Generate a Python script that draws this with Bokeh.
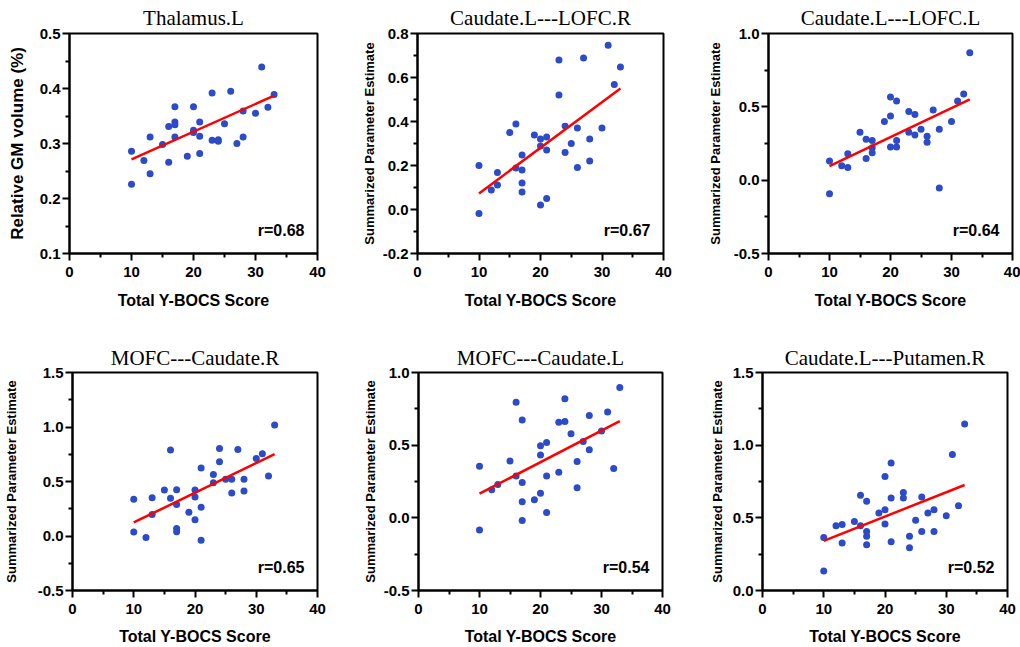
from bokeh.plotting import figure
from bokeh.layouts import row, column
from bokeh.models import Range1d, FixedTicker, NumeralTickFormatter, Label
from bokeh.embed import file_html
from bokeh.resources import INLINE

# ---------------- data ----------------
titles = ["Thalamus.L", "Caudate.L---LOFC.R", "Caudate.L---LOFC.L",
          "MOFC---Caudate.R", "MOFC---Caudate.L", "Caudate.L---Putamen.R"]
y_labels = ["Relative GM volume (%)", "Summarized Parameter Estimate",
            "Summarized Parameter Estimate", "Summarized Parameter Estimate",
            "Summarized Parameter Estimate", "Summarized Parameter Estimate"]
r_texts = ["r=0.68", "r=0.67", "r=0.64", "r=0.65", "r=0.54", "r=0.52"]
x_label = "Total Y-BOCS Score"

x_ticks = [0, 10, 20, 30, 40]
x_minor = [5, 15, 25, 35]

y_ticks = [[0.1, 0.2, 0.3, 0.4, 0.5],
           [-0.2, 0.0, 0.2, 0.4, 0.6, 0.8],
           [-0.5, 0.0, 0.5, 1.0],
           [-0.5, 0.0, 0.5, 1.0, 1.5],
           [-0.5, 0.0, 0.5, 1.0],
           [0.0, 0.5, 1.0, 1.5]]
y_minor = [[0.15, 0.25, 0.35, 0.45],
           [-0.1, 0.1, 0.3, 0.5, 0.7],
           [-0.25, 0.25, 0.75],
           [-0.25, 0.25, 0.75, 1.25],
           [-0.25, 0.25, 0.75],
           [0.25, 0.75, 1.25]]

x1 = [10, 10, 12, 13, 13, 15, 16, 16, 17, 17, 17, 17, 19, 20, 20, 20, 21, 21, 21,
      23, 23, 24, 24, 25, 26, 27, 28, 28, 30, 31, 32, 33]
y1 = [.226, .286, .269, .312, .245, .298, .331, .266, .367, .339, .334, .312, .277,
      .367, .324, .320, .339, .313, .282, .392, .306, .307, .304, .336, .395, .300,
      .359, .312, .355, .439, .366, .389]

x2 = [10, 10, 12, 13, 13, 15, 16, 16, 17, 17, 17, 17, 19, 20, 20, 20, 21, 21, 21,
      23, 23, 24, 24, 25, 26, 26, 27, 28, 28, 30, 31, 32, 33]
y2 = [.200, -.018, .089, .168, .111, .350, .389, .189, .248, .180, .120, .080, .339,
      .320, .289, .021, .329, .271, .050, .679, .520, .379, .259, .300, .370, .191,
      .689, .320, .221, .370, .747, .568, .648]

x3 = [10, 10, 12, 13, 13, 15, 16, 16, 17, 17, 17, 19, 20, 20, 20, 21, 21, 21,
      23, 23, 24, 24, 25, 26, 26, 27, 28, 28, 30, 31, 32, 33]
y3 = [.130, -.092, .098, .180, .086, .327, .279, .148, .270, .221, .187, .400, .567,
      .437, .226, .540, .270, .226, .469, .327, .448, .308, .347, .299, .258, .478,
      .347, -.053, .400, .540, .588, .869]

x4 = [10, 10, 12, 13, 13, 15, 16, 16, 17, 17, 17, 17, 19, 20, 20, 20, 21, 21, 21,
      23, 23, 24, 24, 25, 26, 26, 27, 28, 28, 30, 31, 32, 33]
y4 = [.337, .036, -.013, .352, .197, .422, .788, .346, .425, .288, .069, .039, .218,
      .422, .358, .148, .623, .264, -.040, .565, .489, .803, .681, .520, .520, .395,
      .794, .520, .413, .712, .754, .550, 1.019]

x5 = [10, 10, 12, 13, 15, 16, 16, 17, 17, 17, 17, 19, 20, 20, 20, 21, 21, 21,
      23, 23, 24, 24, 25, 26, 26, 27, 28, 28, 30, 31, 32, 33]
y5 = [.355, -.083, .193, .230, .391, .795, .287, .674, .243, .111, -.019, .125, .496,
      .432, .170, .519, .287, .036, .658, .314, .820, .663, .578, .387, .207, .526,
      .704, .469, .597, .729, .339, .897]

x6 = [10, 10, 12, 13, 13, 15, 16, 16, 17, 17, 17, 17, 19, 20, 20, 20, 21, 21, 21,
      23, 23, 24, 24, 25, 26, 26, 27, 28, 28, 30, 31, 32, 33]
y6 = [.365, .135, .445, .454, .326, .475, .655, .445, .614, .406, .374, .315, .534,
      .785, .555, .457, .877, .637, .336, .674, .637, .374, .295, .484, .644, .406,
      .534, .555, .406, .514, .936, .584, 1.146]

xs = [x1, x2, x3, x4, x5, x6]
ys = [y1, y2, y3, y4, y5, y6]

# fitted regression lines (endpoints)
fit_x = [10, 33]
fit_y = [[0.271, 0.387], [0.073, 0.550], [0.095, 0.551],
         [0.124, 0.751], [0.166, 0.665], [0.342, 0.726]]

# ---------------- layout / style ----------------
# (width, min_border_left, min_border_right, y-axis-label standoff)
top_geo = [(342, 69, 25, 10), (348, 75, 27, 3), (330, 78, 8, 8)]
bot_geo = [(342, 72, 25, 16), (348, 76, 28, 3), (330, 72, 13, 5)]
# (height, border top, border bottom, title standoff, x-label standoff)
top_row = (341, 33, 88, 7, 12)
bot_row = (306, 31, 56, 5, 11)
DOT = "#2b4bc8"
SANS = "Liberation Sans"
SERIF = "Liberation Serif"


def make_panel(i, geo, rowg):
    width, bl, br, ylab_so = geo
    height, bt, bb, title_so, xlab_so = rowg
    ymin, ymax = y_ticks[i][0], y_ticks[i][-1]
    p = figure(width=width, height=height, output_backend="svg",
               toolbar_location=None, x_range=Range1d(0, 40),
               y_range=Range1d(ymin, ymax),
               min_border_left=bl, min_border_right=br,
               min_border_top=bt, min_border_bottom=bb,
               background_fill_color="white", border_fill_color="white")
    p.grid.visible = False
    p.outline_line_color = "black"
    p.outline_line_width = 2
    p.outline_line_alpha = 1

    p.title.text = titles[i]
    p.title.text_font = SERIF
    p.title.text_font_size = "21px"
    p.title.text_font_style = "normal"
    p.title.align = "center"
    p.title.standoff = title_so
    p.title.text_color = "black"

    for ax, ticks, minor in ((p.xaxis[0], x_ticks, x_minor),
                             (p.yaxis[0], y_ticks[i], y_minor[i])):
        ax.ticker = FixedTicker(ticks=ticks, minor_ticks=minor)
        ax.axis_line_width = 2
        ax.axis_line_color = "black"
        ax.major_tick_line_width = 2
        ax.minor_tick_line_width = 2
        ax.major_tick_line_color = "black"
        ax.minor_tick_line_color = "black"
        ax.major_tick_out = 7
        ax.major_tick_in = 0
        ax.minor_tick_out = 4
        ax.minor_tick_in = 0
        ax.major_label_text_font = SANS
        ax.major_label_text_font_style = "bold"
        ax.major_label_text_font_size = "15px"
        ax.major_label_text_color = "black"
        ax.axis_label_text_font = SANS
        ax.axis_label_text_font_style = "bold"
        ax.axis_label_text_color = "black"

    p.xaxis[0].major_label_standoff = 6
    p.xaxis[0].axis_label = x_label
    p.xaxis[0].axis_label_text_font_size = "16px"
    p.xaxis[0].axis_label_standoff = xlab_so

    p.yaxis[0].formatter = NumeralTickFormatter(format="0.0")
    p.yaxis[0].major_label_standoff = 2
    p.yaxis[0].axis_label = y_labels[i]
    p.yaxis[0].axis_label_text_font_size = "17px" if i == 0 else "13px"
    p.yaxis[0].axis_label_standoff = ylab_so

    p.scatter(xs[i], ys[i], size=7, fill_color=DOT, line_color=DOT, line_width=0)
    p.line(fit_x, fit_y[i], line_color="#ff0000", line_width=2.5)

    frame_w = width - bl - br
    frame_h = height - bt - bb
    lx = 40 - 13 * 40.0 / frame_w
    ly = ymin + 23 * (ymax - ymin) / frame_h
    p.add_layout(Label(x=lx, y=ly, text=r_texts[i], text_align="right",
                       text_baseline="middle", text_font=SANS,
                       text_font_size="16px", text_font_style="bold",
                       text_color="black"))
    return p


top = [make_panel(k, top_geo[k], top_row) for k in range(3)]
bot = [make_panel(k + 3, bot_geo[k], bot_row) for k in range(3)]

layout = column(row(*top, spacing=0), row(*bot, spacing=0), spacing=0)

open("out.html", "w").write(file_html(layout, INLINE))
